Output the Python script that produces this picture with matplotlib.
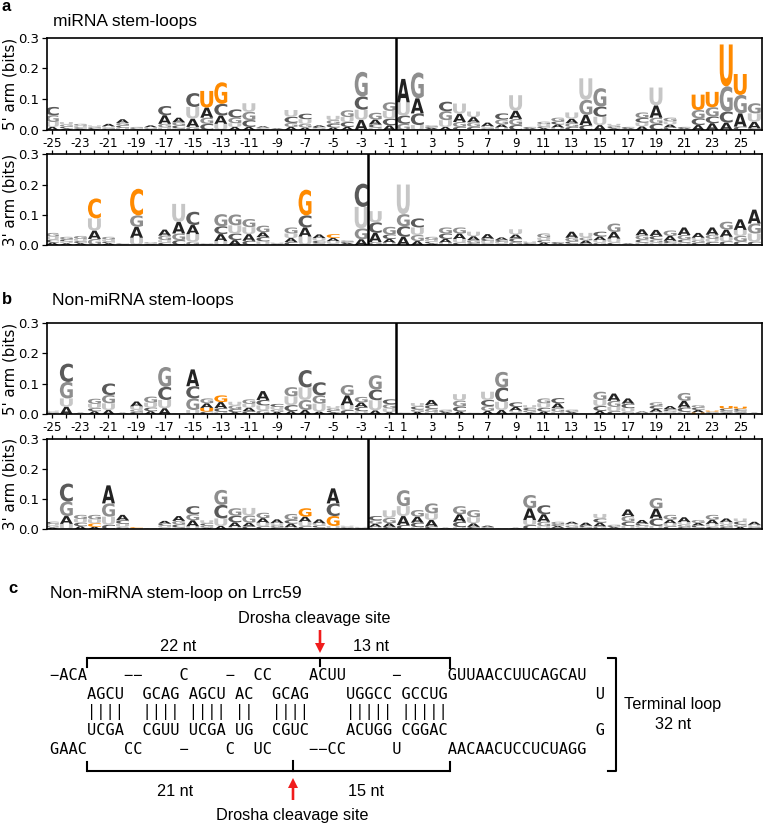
import matplotlib
matplotlib.use('Agg')
import matplotlib.pyplot as plt
from matplotlib.textpath import TextPath
from matplotlib.patches import PathPatch
from matplotlib.font_manager import FontProperties
from matplotlib.transforms import Affine2D

# ---------------- data ----------------
POSITIONS = list(range(-25, 0)) + list(range(1, 27))
BASES = ['A', 'C', 'G', 'U']

# panel a, 5' arm (miRNA)
MIR5_A = [0.010,0.005,0.004,0.003,0.008,0.012,0.002,0.006,0.028,0.015,0.027,0.033,0.027,0.010,0.010,0.004,0.002,0.010,0.008,0.005,0.008,0.010,0.033,0.016,0.015,
          0.076,0.049,0.004,0.010,0.027,0.017,0.012,0.010,0.027,0.003,0.006,0.010,0.015,0.033,0.016,0.005,0.003,0.012,0.040,0.010,0.003,0.016,0.022,0.024,0.043,0.022]
MIR5_C = [0.027,0.006,0.005,0.004,0.004,0.008,0.003,0.003,0.030,0.010,0.045,0.020,0.038,0.027,0.022,0.003,0.001,0.020,0.018,0.004,0.012,0.016,0.043,0.010,0.022,
          0.027,0.038,0.004,0.031,0.010,0.010,0.004,0.020,0.016,0.003,0.006,0.010,0.010,0.016,0.033,0.005,0.003,0.015,0.020,0.008,0.003,0.022,0.022,0.036,0.011,0.005]
MIR5_G = [0.022,0.007,0.006,0.004,0.004,0.008,0.003,0.003,0.012,0.010,0.010,0.020,0.070,0.018,0.027,0.002,0.001,0.013,0.012,0.003,0.012,0.022,0.080,0.022,0.028,
          0.020,0.084,0.004,0.029,0.016,0.015,0.004,0.016,0.020,0.002,0.008,0.012,0.012,0.049,0.060,0.005,0.002,0.018,0.020,0.012,0.002,0.027,0.030,0.082,0.060,0.033]
MIR5_U = [0.016,0.008,0.005,0.004,0.004,0.007,0.002,0.003,0.008,0.005,0.038,0.054,0.020,0.012,0.028,0.003,0.001,0.022,0.015,0.003,0.014,0.016,0.033,0.008,0.025,
          0.043,0.016,0.003,0.022,0.033,0.018,0.004,0.008,0.050,0.002,0.007,0.008,0.020,0.070,0.027,0.005,0.002,0.012,0.058,0.010,0.002,0.050,0.050,0.136,0.068,0.027]

# panel a, 3' arm (miRNA)
MIR3_A = [0.008,0.006,0.006,0.028,0.006,0.001,0.036,0.002,0.020,0.038,0.030,0.001,0.023,0.016,0.022,0.016,0.002,0.013,0.030,0.012,0.010,0.004,0.019,0.030,0.012,
          0.027,0.013,0.005,0.012,0.018,0.013,0.015,0.008,0.013,0.003,0.008,0.003,0.020,0.010,0.012,0.022,0.002,0.020,0.020,0.016,0.025,0.016,0.024,0.024,0.035,0.046]
MIR3_C = [0.010,0.007,0.007,0.066,0.006,0.002,0.088,0.002,0.008,0.016,0.044,0.002,0.026,0.022,0.014,0.014,0.002,0.010,0.040,0.008,0.013,0.004,0.077,0.035,0.015,
          0.035,0.030,0.006,0.018,0.008,0.006,0.008,0.007,0.012,0.003,0.008,0.003,0.008,0.005,0.016,0.008,0.001,0.010,0.012,0.008,0.010,0.008,0.010,0.012,0.012,0.011]
MIR3_G = [0.012,0.008,0.010,0.020,0.009,0.001,0.038,0.003,0.015,0.022,0.011,0.001,0.040,0.036,0.027,0.022,0.002,0.020,0.085,0.006,0.005,0.004,0.036,0.010,0.025,
          0.040,0.020,0.010,0.020,0.020,0.010,0.006,0.005,0.010,0.003,0.014,0.002,0.012,0.010,0.008,0.028,0.001,0.014,0.010,0.018,0.015,0.008,0.014,0.026,0.018,0.033]
MIR3_U = [0.010,0.006,0.007,0.040,0.006,0.001,0.024,0.002,0.008,0.060,0.025,0.002,0.013,0.027,0.023,0.012,0.002,0.015,0.028,0.009,0.008,0.003,0.071,0.037,0.008,
          0.098,0.025,0.006,0.008,0.012,0.015,0.007,0.005,0.017,0.003,0.008,0.002,0.004,0.015,0.008,0.013,0.001,0.008,0.008,0.006,0.008,0.008,0.010,0.015,0.020,0.027]

# panel b, 5' arm (non-miRNA)
NON5_A = [0.003,0.025,0.002,0.010,0.014,0.002,0.016,0.010,0.020,0.001,0.055,0.015,0.020,0.007,0.012,0.029,0.008,0.010,0.014,0.009,0.006,0.032,0.015,0.013,0.007,
          0.001,0.008,0.017,0.004,0.009,0.001,0.011,0.014,0.012,0.006,0.009,0.016,0.004,0.001,0.011,0.024,0.017,0.003,0.010,0.010,0.022,0.008,0.003,0.005,0.005,0.002]
NON5_C = [0.003,0.060,0.001,0.010,0.038,0.001,0.008,0.012,0.043,0.001,0.040,0.009,0.012,0.010,0.010,0.018,0.010,0.020,0.057,0.043,0.007,0.014,0.014,0.035,0.016,
          0.002,0.010,0.012,0.004,0.016,0.001,0.020,0.047,0.015,0.008,0.012,0.017,0.004,0.001,0.016,0.010,0.015,0.002,0.010,0.007,0.014,0.008,0.003,0.008,0.007,0.001]
NON5_G = [0.003,0.054,0.001,0.017,0.027,0.001,0.008,0.020,0.065,0.001,0.038,0.016,0.022,0.012,0.015,0.013,0.008,0.030,0.033,0.027,0.007,0.034,0.018,0.047,0.014,
          0.001,0.008,0.010,0.004,0.020,0.002,0.016,0.051,0.006,0.007,0.016,0.012,0.004,0.001,0.027,0.020,0.008,0.002,0.011,0.005,0.026,0.008,0.003,0.006,0.006,0.001]
NON5_U = [0.003,0.027,0.001,0.014,0.022,0.001,0.010,0.016,0.027,0.001,0.014,0.012,0.008,0.012,0.012,0.016,0.008,0.029,0.041,0.026,0.007,0.016,0.010,0.033,0.012,
          0.001,0.011,0.008,0.003,0.021,0.001,0.027,0.027,0.006,0.009,0.015,0.008,0.003,0.001,0.020,0.014,0.012,0.002,0.008,0.005,0.008,0.006,0.003,0.008,0.007,0.001]

# panel b, 3' arm (non-miRNA)
NON3_A = [0.006,0.026,0.010,0.008,0.060,0.018,0.001,0.001,0.009,0.016,0.020,0.005,0.011,0.015,0.012,0.015,0.012,0.012,0.017,0.013,0.050,0.003,0.002,0.010,0.012,
          0.030,0.020,0.022,0.002,0.025,0.012,0.004,0.001,0.002,0.039,0.025,0.006,0.007,0.010,0.012,0.004,0.022,0.012,0.033,0.012,0.016,0.008,0.014,0.012,0.008,0.010]
NON3_C = [0.007,0.060,0.012,0.012,0.015,0.012,0.004,0.001,0.007,0.010,0.027,0.008,0.045,0.022,0.010,0.010,0.007,0.012,0.010,0.007,0.042,0.003,0.002,0.014,0.008,
          0.014,0.015,0.009,0.001,0.018,0.008,0.003,0.001,0.001,0.014,0.030,0.006,0.006,0.005,0.014,0.004,0.014,0.007,0.025,0.010,0.008,0.007,0.008,0.008,0.010,0.005]
NON3_G = [0.006,0.048,0.014,0.015,0.044,0.008,0.001,0.001,0.006,0.012,0.020,0.007,0.050,0.025,0.024,0.018,0.007,0.020,0.028,0.006,0.033,0.003,0.002,0.012,0.018,
          0.053,0.022,0.033,0.001,0.027,0.024,0.003,0.001,0.001,0.044,0.015,0.008,0.006,0.004,0.010,0.004,0.019,0.006,0.035,0.016,0.008,0.010,0.016,0.008,0.008,0.005]
NON3_U = [0.006,0.018,0.012,0.013,0.027,0.010,0.001,0.001,0.006,0.006,0.010,0.010,0.025,0.008,0.025,0.012,0.007,0.007,0.015,0.007,0.011,0.003,0.002,0.008,0.025,
          0.033,0.007,0.022,0.001,0.007,0.020,0.002,0.001,0.001,0.017,0.010,0.005,0.006,0.003,0.015,0.003,0.011,0.006,0.011,0.010,0.008,0.006,0.010,0.008,0.010,0.005]

# highlighted (position -> base)
MIR5_HL = {-14: 'U', -13: 'G', 22: 'U', 23: 'U', 24: 'U', 25: 'U'}
MIR3_HL = {-22: 'C', -19: 'C', -7: 'G', -5: 'C'}
NON5_HL = {-14: 'U', -13: 'G', 22: 'U', 23: 'U', 24: 'U', 25: 'U'}
NON3_HL = {-22: 'C', -19: 'C', -7: 'G', -5: 'G'}

# panel c text content
ROW1 = "\u2212ACA    \u2212\u2212    C    \u2212  CC    ACUU     \u2212     GUUAACCUUCAGCAU"
ROW2 = "    AGCU  GCAG AGCU AC  GCAG    UGGCC GCCUG                U"
ROW3 = "    ||||  |||| |||| ||  ||||    ||||| |||||"
ROW4 = "    UCGA  CGUU UCGA UG  CGUC    ACUGG CGGAC                G"
ROW5 = "GAAC    CC    \u2212    C  UC    \u2212\u2212CC     U     AACAACUCCUCUAGG"
LEN_LABELS = ['22 nt', '13 nt', '21 nt', '15 nt']
LOOP_LABEL = ['Terminal loop', '32 nt']

# ---------------- style ----------------
COLORS = {'A': '#222222', 'C': '#5a5a5a', 'G': '#8e8e8e', 'U': '#c6c6c6'}
ORANGE = '#ff8a00'
RED = '#f01c1c'
SANS = 'Liberation Sans'

W, H = 765, 825
fig = plt.figure(figsize=(W / 100, H / 100), dpi=100)

over = fig.add_axes([0, 0, 1, 1])
over.set_xlim(0, W)
over.set_ylim(H, 0)
over.axis('off')


def px_axes(l, t, r, b):
    return fig.add_axes([l / W, 1 - b / H, (r - l) / W, (b - t) / H])


FP = FontProperties(family='DejaVu Sans', weight='bold')
GLYPHS = {b: TextPath((0, 0), b, size=1, prop=FP) for b in BASES}


def letter(ax, b, x, y, h, color, w=0.92):
    if h <= 0:
        return
    p = GLYPHS[b]
    ext = p.get_extents()
    t = (Affine2D().translate(-ext.x0, -ext.y0)
         .scale(w / ext.width, h / ext.height)
         .translate(x - w / 2, y))
    ax.add_patch(PathPatch(t.transform_path(p), fc=color, ec='none', lw=0))


def logo(ax, cols, hl, divider, five):
    n = len(POSITIONS)
    for i, pos in enumerate(POSITIONS):
        stack = sorted([(cols[b][i], b) for b in BASES], key=lambda t: t[0])
        y = 0.0
        for h, b in stack:
            c = ORANGE if hl.get(pos) == b else COLORS[b]
            letter(ax, b, i, y, h, c)
            y += h
    ax.set_xlim(-0.4, n - 0.45)
    ax.set_ylim(0, 0.3)
    ax.axvline(divider, color='black', lw=1.8)
    ax.set_yticks([0, 0.1, 0.2, 0.3])
    ax.set_yticklabels(['0.0', '0.1', '0.2', '0.3'])
    ax.set_xticks(range(n))
    for s in ax.spines.values():
        s.set_linewidth(1.2)
    if five:
        ax.set_xticklabels([str(p) if abs(p) % 2 == 1 and p != 26 else '' for p in POSITIONS])
        ax.tick_params(axis='x', bottom=True, top=False, labelbottom=True,
                       direction='out', length=3, width=0.9, labelsize=8.6, pad=2)
    else:
        ax.set_xticklabels([])
        ax.tick_params(axis='x', bottom=False, top=True, labelbottom=False, labeltop=False,
                       direction='out', length=3, width=0.9)
    ax.tick_params(axis='y', direction='out', length=3.5, width=0.9, labelsize=9.5, pad=2)


L, R = 46.7, 762
panels = [
    ((37.7, 130.0), {'A': MIR5_A, 'C': MIR5_C, 'G': MIR5_G, 'U': MIR5_U}, MIR5_HL, 24.5, True, "5' arm (bits)"),
    ((154.3, 245.0), {'A': MIR3_A, 'C': MIR3_C, 'G': MIR3_G, 'U': MIR3_U}, MIR3_HL, 22.5, False, "3' arm (bits)"),
    ((322.7, 414.3), {'A': NON5_A, 'C': NON5_C, 'G': NON5_G, 'U': NON5_U}, NON5_HL, 24.5, True, "5' arm (bits)"),
    ((439.0, 529.3), {'A': NON3_A, 'C': NON3_C, 'G': NON3_G, 'U': NON3_U}, NON3_HL, 22.5, False, "3' arm (bits)"),
]
for (t, b), cols, hl, div, five, lab in panels:
    ax = px_axes(L, t, R, b)
    logo(ax, cols, hl, div, five)
    over.text(10, (t + b) / 2, lab, rotation=90, ha='center', va='center', fontsize=10.8)

# panel labels and titles
over.text(1, 11, 'a', fontsize=12, fontweight='bold', family=SANS, va='baseline')
over.text(53, 25.7, 'miRNA stem-loops', fontsize=12.5, family=SANS, va='baseline')
over.text(1.5, 304, 'b', fontsize=12, fontweight='bold', family=SANS, va='baseline')
over.text(52, 305, 'Non-miRNA stem-loops', fontsize=12.5, family=SANS, va='baseline')
over.text(8, 593, 'c', fontsize=12, fontweight='bold', family=SANS, va='baseline')
over.text(50, 598, 'Non-miRNA stem-loop on Lrrc59', fontsize=12.5, family=SANS, va='baseline')

# panel c: stem-loop diagram
mono = dict(family='DejaVu Sans Mono', fontsize=11.1, ha='left')
x0 = 49.9
over.text(x0, 680, ROW1, va='baseline', **mono)
over.text(x0, 699, ROW2, va='baseline', **mono)
over.text(x0, 712, ROW3, va='center', **mono)
over.text(x0, 735, ROW4, va='baseline', **mono)
over.text(x0, 754, ROW5, va='baseline', **mono)

lw = 1.5
# top bracket
over.plot([87, 450], [658, 658], color='black', lw=lw, solid_capstyle='butt')
for xx, y2 in [(87, 667), (320, 666), (450, 668)]:
    over.plot([xx, xx], [658, y2], color='black', lw=lw)
# bottom bracket
over.plot([87, 450], [771, 771], color='black', lw=lw, solid_capstyle='butt')
for xx, y1 in [(87, 762), (293, 761), (450, 762)]:
    over.plot([xx, xx], [y1, 771], color='black', lw=lw)
# right bracket
over.plot([608, 616, 616, 608], [658, 658, 771, 771], color='black', lw=lw)

ctext = dict(family=SANS, fontsize=11.7, ha='center', va='baseline')
over.text(314, 623.3, 'Drosha cleavage site', **ctext)
over.text(292, 820, 'Drosha cleavage site', **ctext)
over.text(178, 651, LEN_LABELS[0], **ctext)
over.text(371, 651, LEN_LABELS[1], **ctext)
over.text(175, 795.7, LEN_LABELS[2], **ctext)
over.text(366, 795.7, LEN_LABELS[3], **ctext)
over.text(673, 709.3, LOOP_LABEL[0], **ctext)
over.text(673, 729, LOOP_LABEL[1], **ctext)

over.arrow(320, 630, 0, 23, width=2.6, head_width=10, head_length=10,
           length_includes_head=True, color=RED, lw=0)
over.arrow(293, 800, 0, -22, width=2.6, head_width=10, head_length=10,
           length_includes_head=True, color=RED, lw=0)

fig.savefig('out.png', dpi=100)
